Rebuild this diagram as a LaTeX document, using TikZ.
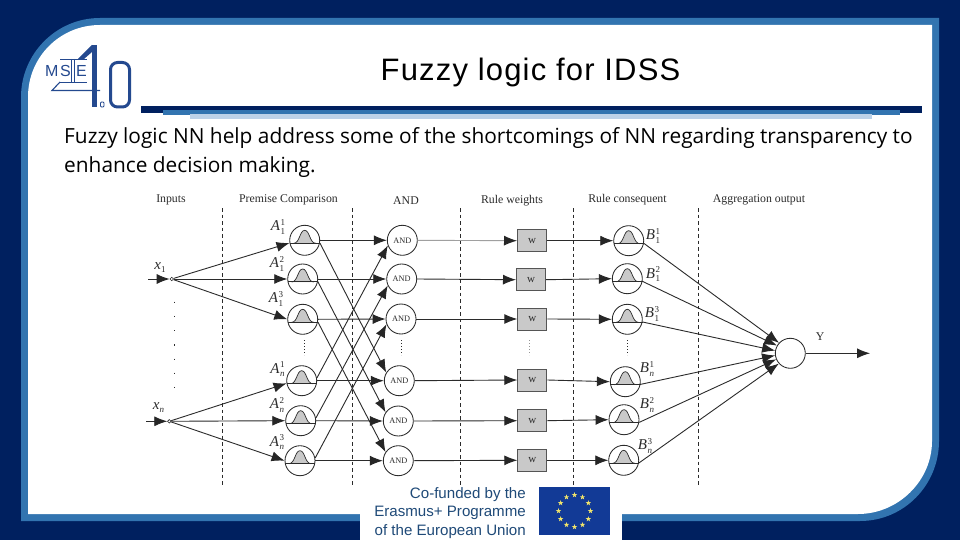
\documentclass[tikz,border=0pt]{standalone}
\usepackage{fontspec}
\setmainfont{Liberation Serif}
\newfontfamily\arialf{Liberation Sans}
\newfontfamily\bodyf{Open Sans}
\usetikzlibrary{arrows.meta,shapes.geometric}
\definecolor{navy}{HTML}{00205F}
\definecolor{midblue}{HTML}{3274B0}
\definecolor{paleblue}{HTML}{BDD2E8}
\definecolor{logoblue}{HTML}{24498F}
\definecolor{euro}{HTML}{123A96}
\definecolor{starcol}{HTML}{F2E56B}
\definecolor{ink}{HTML}{2B2B2B}
\definecolor{grayfill}{HTML}{C9C9C9}
\definecolor{footblue}{HTML}{1F4A78}
\tikzset{
  x=1pt,y=-1pt,
  pen/.style={draw=ink,line width=0.9pt},
  link/.style={pen,-{Latex[length=13pt,width=10pt,color=black!85]}},
  ring/.style={circle,draw=ink,line width=0.85pt,minimum size=30pt,inner sep=0pt,fill=white},
  andring/.style={ring,font=\fontsize{8.3}{9}\selectfont,text=ink},
  wbox/.style={rectangle,draw=ink!80,line width=1pt,fill=grayfill,minimum width=29pt,minimum height=22pt,inner sep=0pt,font=\fontsize{11}{11}\selectfont,text=ink},
  head/.style={font=\fontsize{11.8}{13}\selectfont,text=ink,inner sep=0pt},
  lab/.style={font=\fontsize{15}{15}\selectfont,text=ink,inner sep=0pt},
  sep/.style={draw=ink,line width=0.7pt,dash pattern=on 3.5pt off 3pt},
  dotsv/.style={draw=ink,line width=0.9pt,dash pattern=on 1pt off 2pt},
  bigdots/.style={draw=ink,line width=1pt,dash pattern=on 1.2pt off 13pt},
  pt/.style={circle,draw=ink,fill=white,line width=0.6pt,minimum size=3.5pt,inner sep=0pt},
  logoline/.style={draw=logoblue,line width=0.9pt},
  logotxt/.style={font=\arialf\fontsize{16}{16}\selectfont,text=logoblue,inner sep=0pt,anchor=west},
}
\newcommand{\fuzzy}[3]{%
  \node[ring] (#1) at (#2,#3) {};
  \fill[grayfill] (#2-11,#3+3) .. controls (#2-5,#3+3) and (#2-5,#3-10) .. (#2,#3-10) .. controls (#2+5,#3-10) and (#2+5,#3+3) .. (#2+11,#3+3) -- cycle;
  \draw[ink,line width=0.7pt] (#2-11,#3+3) .. controls (#2-5,#3+3) and (#2-5,#3-10) .. (#2,#3-10) .. controls (#2+5,#3-10) and (#2+5,#3+3) .. (#2+11,#3+3);
  \draw[pen] (#1.190) -- (#1.350);
}
\newcommand{\letsubsup}[3]{\textit{#1}\kern0.5pt\rlap{\raisebox{-3.5pt}{\fontsize{9}{9}\selectfont #2}}\raisebox{5.5pt}{\fontsize{9}{9}\selectfont #3}}
\begin{document}
\begin{tikzpicture}
\useasboundingbox (0,0) rectangle (960,540);
% frame
\fill[navy] (0,0) rectangle (960,540);
\fill[midblue] (100,18) -- (939,18) -- (939,441) .. controls (939,485) and (904,521) .. (860,521) -- (21,521) -- (21,97) .. controls (21,54) and (56,18) .. (100,18) -- cycle;
\fill[white] (100,25) -- (932,25) -- (932,441) .. controls (932,481) and (898,514) .. (858,514) -- (28,514) -- (28,97) .. controls (28,57) and (60,25) .. (100,25) -- cycle;
% title rules
\fill[navy] (141,106) rectangle (922,113);
\fill[midblue] (163,110) rectangle (900,115);
\fill[paleblue] (190,114) rectangle (872,119);
% logo
\node[logotxt] (logoM) at (45,71) {M};
\node[logotxt] (logoS) at (60,71) {S};
\node[logotxt] (logoE) at (76,71) {E};
\draw[logoline] (60,59) -- (87,59) (60,82) -- (87,82);
\draw[logoline] (71.5,59) -- (71.5,82) (74,59) -- (74,82);
\fill[logoblue] (91.5,45) -- (96.5,45) -- (96.5,107) -- (91.5,107) -- cycle;
\fill[logoblue] (92,45) -- (92,52) -- (84,59) -- (78,59) -- cycle;
\draw[logoblue,line width=1.1pt] (60,82) -- (52,90.5) -- (100,90.5);
\draw[logoblue,line width=3pt,rounded corners=7pt] (110.5,62.5) rectangle (129.5,107);
\draw[logoblue,line width=0.9pt,rounded corners=1pt] (100.5,102) rectangle (104,107);
% title and body
\node[font=\arialf\fontsize{31}{32}\selectfont\addfontfeature{LetterSpace=3.8},text=black,inner sep=0pt] (title) at (530.5,72.5) {Fuzzy logic for IDSS};
\node[font=\bodyf\fontsize{20.85}{29}\selectfont,text=black,inner sep=0pt,anchor=north west,align=left] (body) at (64,127) {Fuzzy logic NN help address some of the shortcomings of NN regarding transparency to\\enhance decision making.};
% separators
\foreach \n/\x in {s1/222.3,s2/352.3,s3/460.7,s4/573.3,s5/698.7}{
  \coordinate (\n a) at (\x,208);
  \coordinate (\n b) at (\x,485);
  \draw[sep] (\n a) -- (\n b);
}
% headers
\node[head] (h1) at (171,200) {Inputs};
\node[head] (h2) at (288.5,200) {Premise Comparison};
\node[head] (h3) at (406,200.5) {AND};
\node[head] (h4) at (512,201) {Rule weights};
\node[head] (h5) at (627.5,200) {Rule consequent};
\node[head] (h6) at (759,200) {Aggregation output};
% fuzzy units
\fuzzy{p1}{304.7}{240.3}
\fuzzy{p2}{302.7}{279}
\fuzzy{p3}{302.7}{319.3}
\fuzzy{p4}{301.7}{380.7}
\fuzzy{p5}{300.7}{420.7}
\fuzzy{p6}{300}{460.7}
\fuzzy{c1}{628.7}{240.7}
\fuzzy{c2}{627.3}{278.7}
\fuzzy{c3}{627.3}{319.3}
\fuzzy{c4}{625.3}{381.7}
\fuzzy{c5}{624}{419.7}
\fuzzy{c6}{623.7}{460.3}
% AND
\node[andring] (a1) at (402.3,240.3) {AND};
\node[andring] (a2) at (401.7,279) {AND};
\node[andring] (a3) at (401,319) {AND};
\node[andring] (a4) at (399.3,380.7) {AND};
\node[andring] (a5) at (398.3,421) {AND};
\node[andring] (a6) at (398.3,460.7) {AND};
% weights
\node[wbox] (w1) at (532,240.7) {w};
\node[wbox] (w2) at (531,279.7) {w};
\node[wbox] (w3) at (532.3,319) {w};
\node[wbox] (w4) at (532.3,380) {w};
\node[wbox] (w5) at (532.3,420.7) {w};
\node[wbox] (w6) at (532.3,460.3) {w};
% output
\node[ring] (Y) at (790.3,353.3) {};
\coordinate (Yend) at (870,353.3);
\coordinate (x1in) at (148,279);
\coordinate (xnin) at (146,421.3);
\node[pt] (x1) at (171.7,279) {};
\node[pt] (xn) at (169.3,421.3) {};
% connectors
\draw[link] (x1in) -- (x1.west);
\draw[link] (xnin) -- (xn.west);
\draw[link] (x1) -- (p1.190);
\draw[link] (x1) -- (p2.west);
\draw[link] (x1) -- (p3.west);
\draw[link] (xn) -- (p4.190);
\draw[link] (xn) -- (p5.west);
\draw[link] (xn) -- (p6.west);
\foreach \i in {1,...,6}{
  \draw[link] (p\i.east) -- (a\i.west);
  \draw[link] (w\i.east) -- (c\i.west);
}
\draw[link] (p1.350) -- (a4.148);
\draw[link] (p2.350) -- (a5.146);
\draw[link] (p3.350) -- (a6.146);
\draw[link] (p4.10) -- (a1.200);
\draw[link] (p5.10) -- (a2.205);
\draw[link] (p6.10) -- (a3.200);
\draw[link,draw=ink!45] (a1.east) -- (w1.west);
\foreach \i in {2,...,6}{ \draw[link] (a\i.east) -- (w\i.west); }
\draw[link] (c1.350) -- (Y.137);
\draw[link] (c2.350) -- (Y.150);
\draw[link] (c3.350) -- (Y.170);
\draw[link] (c4.350) -- (Y.188);
\draw[link] (c5.350) -- (Y.203);
\draw[link] (c6.350) -- (Y.222);
\draw[link] (Y.east) -- (Yend);
% ellipses
\coordinate (d0a) at (174.3,301.7); \coordinate (d0b) at (174.3,388);
\draw[bigdots] (d0a) -- (d0b);
\foreach \n/\x in {d1/304,d2/401,d4/627}{
  \coordinate (\n a) at (\x,340); \coordinate (\n b) at (\x,355);
  \draw[dotsv] (\n a) -- (\n b);
}
\coordinate (d3a) at (529,340); \coordinate (d3b) at (529,355);
\draw[dotsv,draw=ink!50] (d3a) -- (d3b);
% labels
\node[lab] (t1) at (160,268) {\textit{x}\raisebox{-3pt}{\fontsize{9}{9}\selectfont 1}};
\node[lab] (t2) at (158.5,408) {\textit{x}\raisebox{-3pt}{\fontsize{9}{9}\selectfont\textit{n}}};
\foreach \n/\x/\y/\l/\s/\u in {q1/278/227/A/1/1,q2/277/264/A/1/2,q3/276/299/A/1/3,q4/277.5/369.5/A/\textit{n}/1,q5/277/405/A/\textit{n}/2,q6/277/442.5/A/\textit{n}/3,r1/653/236/B/1/1,r2/653/274.5/B/1/2,r3/652/314/B/1/3,r4/647/369/B/\textit{n}/1,r5/647/405/B/\textit{n}/2,r6/645/446/B/\textit{n}/3}{
  \node[lab] (\n) at (\x,\y) {\letsubsup{\l}{\s}{\u}};
}
\node[head] (Yt) at (820,337) {Y};
% footer
\fill[white] (360,487) rectangle (622,540);
\node[font=\arialf\fontsize{15.1}{18.5}\selectfont,text=footblue,inner sep=0pt,anchor=east,align=right] (foot) at (526,513) {Co-funded by the\\Erasmus+ Programme\\of the European Union};
\fill[euro] (539,487.3) rectangle (610,534.7);
\foreach \a in {0,30,...,330}{
  \fill[starcol] ({574.5+16*cos(\a)},{511+16*sin(\a)-2.8})
    \foreach \k in {1,...,9}{ -- ({574.5+16*cos(\a)+(mod(\k,2)==0?2.8:1.1)*cos(-90+36*\k)},{511+16*sin(\a)+(mod(\k,2)==0?2.8:1.1)*sin(-90+36*\k)}) } -- cycle;
}
\end{tikzpicture}
\end{document}
